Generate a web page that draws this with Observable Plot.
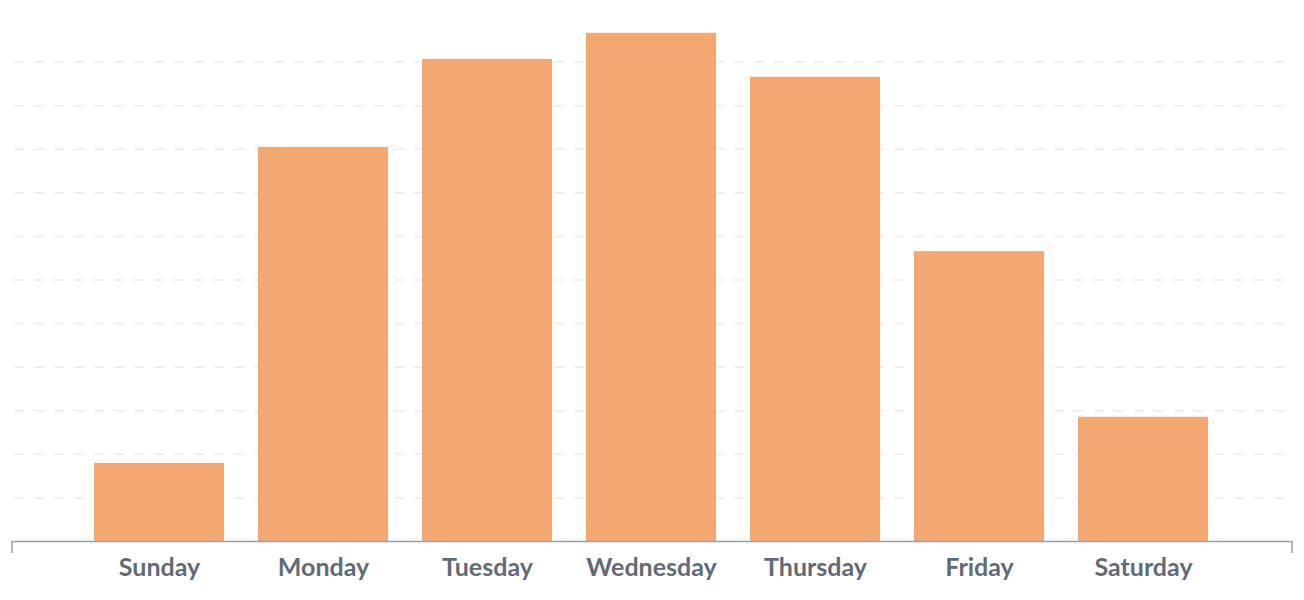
<!DOCTYPE html>
<html>
<head>
<meta charset="utf-8">
<script src="https://cdn.jsdelivr.net/npm/d3@7"></script>
<script src="https://cdn.jsdelivr.net/npm/@observablehq/plot@0.6"></script>
<style>
  html, body { margin: 0; padding: 0; background: #fff; }
  #chart svg text { font-weight: 700; }
</style>
</head>
<body>
<div id="chart"></div>
<script>
const days = ["Sunday", "Monday", "Tuesday", "Wednesday", "Thursday", "Friday", "Saturday"];
const values = [17.9, 90.4, 110.6, 116.6, 106.5, 66.5, 28.5];
const gridTicks = [10, 20, 30, 40, 50, 60, 70, 80, 90, 100, 110];

const data = days.map((day, i) => ({day, value: values[i]}));

const axisColor = "#9aa0ae";
const axisInsetL = -48, axisInsetR = -50;

function endTicks(index, scales, values, dimensions) {
  const {width, height, marginLeft, marginRight, marginBottom} = dimensions;
  const y0 = height - marginBottom;
  const g = d3.create("svg:g");
  for (const x of [marginLeft + axisInsetL, width - marginRight - axisInsetR]) {
    g.append("line")
      .attr("x1", x).attr("x2", x)
      .attr("y1", y0).attr("y2", y0 + 12)
      .attr("stroke", axisColor)
      .attr("stroke-width", 1.5);
  }
  return g.node();
}

const chart = Plot.plot({
  width: 1304,
  height: 600,
  marginLeft: 60,
  marginRight: 62,
  marginTop: 18,
  marginBottom: 59,
  style: {fontFamily: "Lato, sans-serif", background: "#fff"},
  x: {domain: days, padding: 0.2073, label: null},
  y: {domain: [0, 120], axis: null},
  marks: [
    Plot.ruleY(gridTicks, {stroke: "#ebebeb", strokeWidth: 1.5, strokeDasharray: "10,10", insetLeft: -46, insetRight: -48}),
    Plot.barY(data, {x: "day", y: "value", fill: "#f2a870"}),
    Plot.ruleY([0], {stroke: axisColor, strokeWidth: 1.5, insetLeft: axisInsetL, insetRight: axisInsetR}),
    endTicks,
    Plot.axisX({tickSize: 0, tickPadding: 17, fontSize: 25, fill: "#626a78", fontWeight: 700, label: null})
  ]
});
document.getElementById("chart").append(chart);
</script>
</body>
</html>
